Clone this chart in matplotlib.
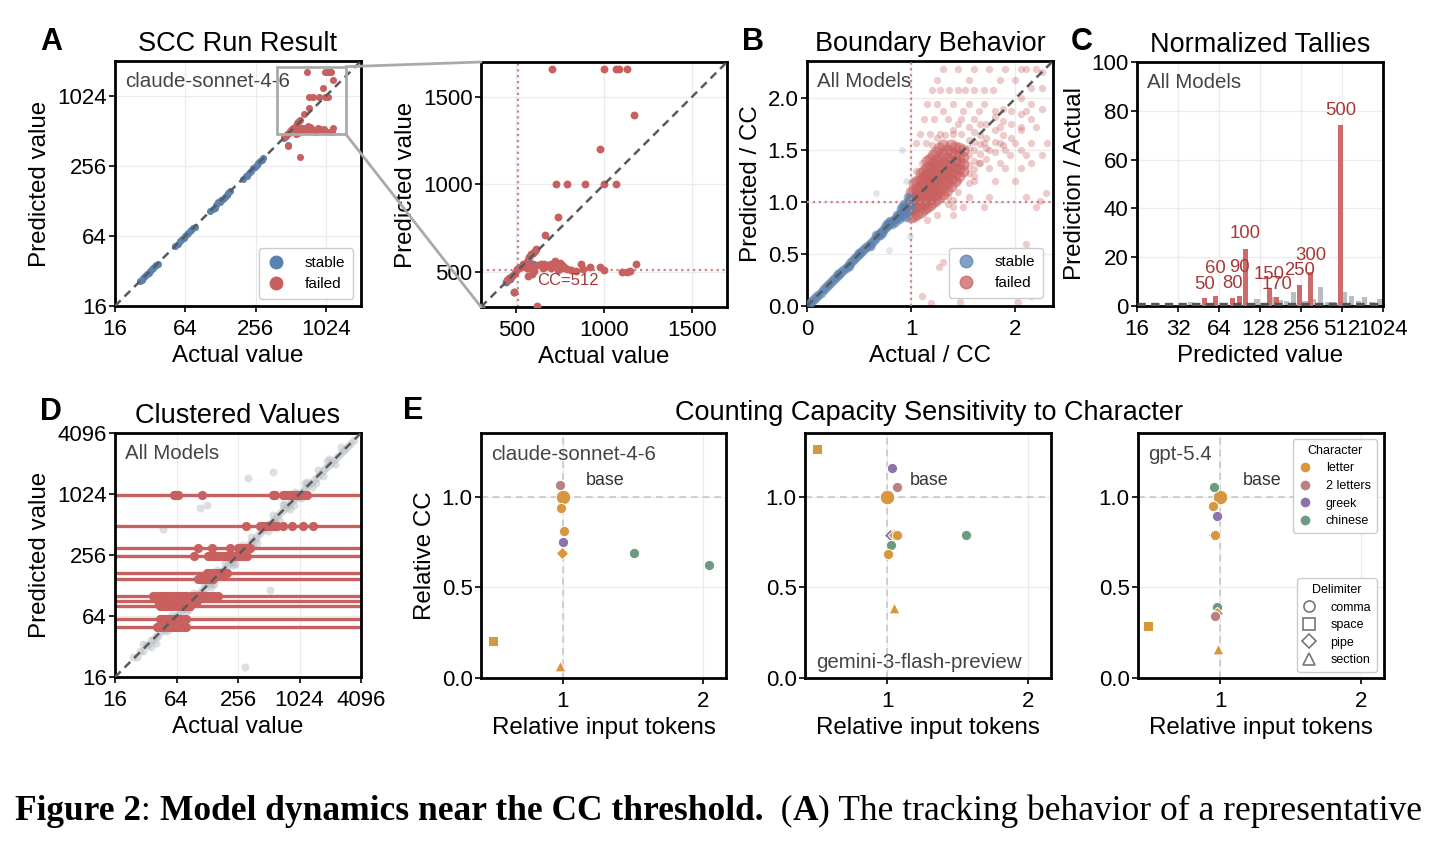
import matplotlib
matplotlib.use('Agg')
import matplotlib.pyplot as plt
from matplotlib.lines import Line2D
from matplotlib.patches import Rectangle, ConnectionPatch
import numpy as np

plt.rcParams['font.family'] = ['Liberation Sans', 'DejaVu Sans']

# ---------------- data ----------------
# Panel A (claude-sonnet-4-6): actual vs predicted
A_stable_x = [26, 27, 28, 29, 30, 31, 32, 33, 34, 35, 36, 37, 52, 55, 58, 60, 62, 64, 66, 68, 70, 72, 75, 77,
              104, 110, 115, 118, 122, 126, 130, 135, 140, 145, 150, 155, 200, 210, 215, 225, 235, 245, 255,
              262, 270, 280, 290, 298, 445, 465, 485, 545, 575, 595]
A_stable_y = [26, 27, 28, 29, 30, 31, 32, 33, 34, 35, 36, 37, 52, 55, 58, 60, 62, 64, 66, 68, 70, 72, 75, 77,
              104, 110, 112, 118, 125, 126, 130, 133, 138, 145, 150, 155, 198, 210, 212, 225, 232, 245, 252,
              262, 270, 280, 290, 298, 445, 461, 388, 535, 540, 548]
A_failed_x = [705, 1000, 1070, 1085, 1131, 1173, 975, 728, 791, 893, 1000, 1067, 740, 665, 618, 488,
              450, 462, 478, 495, 505, 515, 530, 540, 555, 565, 575, 585, 595, 605, 615, 560, 580, 600, 590, 570,
              620, 640, 660, 680, 700, 720, 735, 750, 760, 775, 790, 810, 840, 870, 880, 920, 980, 1000,
              1100, 1130, 1150, 1180, 650, 700, 740, 760]
A_failed_y = [1659, 1659, 1659, 1659, 1659, 1396, 1201, 1000, 1000, 1000, 1000, 1000, 815, 712, 307, 384,
              452, 468, 480, 492, 515, 520, 528, 545, 552, 570, 585, 600, 610, 620, 632, 520, 530, 505, 490, 480,
              540, 548, 545, 540, 548, 560, 545, 552, 520, 530, 515, 510, 505, 545, 515, 530, 530, 510,
              500, 500, 505, 545, 520, 525, 510, 540]
CC = 512
zoom_box_x = [390, 1520]
zoom_box_y = [480, 1830]

# Panel B (all models): actual/CC vs predicted/CC
B_stable_x = [0.01, 0.03, 0.05, 0.07, 0.09, 0.11, 0.13, 0.15, 0.17, 0.19, 0.21, 0.23, 0.25, 0.27, 0.29, 0.31,
              0.33, 0.35, 0.37, 0.39, 0.41, 0.43, 0.45, 0.47, 0.49, 0.51, 0.53, 0.55, 0.57, 0.59, 0.61, 0.63,
              0.65, 0.67, 0.69, 0.71, 0.73, 0.75, 0.77, 0.79, 0.81, 0.83, 0.85, 0.87, 0.89, 0.91, 0.93, 0.95,
              0.97, 0.99, 0.30, 0.40, 0.50, 0.60, 0.66, 0.72, 0.78, 0.82, 0.86, 0.88, 0.90, 0.92, 0.94, 0.96,
              0.98, 0.93, 0.95, 0.97, 0.99, 0.84, 0.76, 0.91, 0.70, 0.80, 0.89]
B_stable_y = [0.01, 0.03, 0.05, 0.07, 0.09, 0.11, 0.13, 0.15, 0.17, 0.19, 0.21, 0.23, 0.25, 0.27, 0.29, 0.31,
              0.33, 0.35, 0.37, 0.39, 0.41, 0.43, 0.45, 0.47, 0.49, 0.51, 0.53, 0.55, 0.57, 0.59, 0.61, 0.63,
              0.65, 0.67, 0.69, 0.71, 0.73, 0.75, 0.77, 0.79, 0.81, 0.83, 0.85, 0.87, 0.89, 0.91, 0.93, 0.95,
              0.97, 0.99, 0.31, 0.39, 0.51, 0.58, 0.68, 0.70, 0.80, 0.79, 0.88, 0.84, 0.93, 0.88, 0.97, 0.91,
              1.02, 0.98, 0.86, 1.05, 0.94, 0.81, 0.78, 0.95, 0.68, 0.82, 0.86]
B_stable_faint_x = [0.66, 0.91, 0.99, 0.79, 0.45, 0.62, 0.95]
B_stable_faint_y = [1.09, 1.50, 0.67, 0.54, 0.47, 0.57, 1.20]
# dense failed core, read column by column
B_core_x = [1.00, 1.03, 1.06, 1.09, 1.12, 1.15, 1.18, 1.21, 1.24, 1.27, 1.30, 1.34, 1.38, 1.42, 1.46, 1.50]
B_core_y = [[0.86, 0.92, 0.98, 1.04, 1.10], [0.87, 0.94, 1.00, 1.06, 1.12, 1.18],
            [0.89, 0.96, 1.02, 1.08, 1.14, 1.20], [0.91, 0.98, 1.04, 1.10, 1.16, 1.22, 1.28],
            [0.93, 1.00, 1.06, 1.12, 1.18, 1.24, 1.30], [0.95, 1.02, 1.08, 1.14, 1.20, 1.26, 1.33, 1.40],
            [0.97, 1.04, 1.10, 1.16, 1.22, 1.28, 1.35, 1.42], [1.00, 1.06, 1.12, 1.18, 1.24, 1.30, 1.37, 1.45],
            [1.02, 1.08, 1.14, 1.20, 1.26, 1.33, 1.40, 1.48], [1.05, 1.11, 1.17, 1.23, 1.29, 1.36, 1.43, 1.52],
            [1.08, 1.14, 1.20, 1.26, 1.32, 1.39, 1.46, 1.55], [1.12, 1.18, 1.24, 1.30, 1.36, 1.43, 1.50],
            [1.16, 1.22, 1.28, 1.34, 1.40, 1.47, 1.55], [1.20, 1.27, 1.33, 1.40, 1.46, 1.53],
            [1.25, 1.32, 1.38, 1.45, 1.52], [1.30, 1.37, 1.44, 1.50]]
# sparser failed points, column by column
B_sparse_x = [1.55, 1.60, 1.66, 1.72, 1.80, 1.88, 1.96, 2.05, 2.15, 2.25]
B_sparse_y = [[1.28, 1.36, 1.45, 1.52, 1.60], [1.32, 1.40, 1.50, 1.58, 1.68], [1.38, 1.46, 1.56, 1.65, 1.75],
              [1.42, 1.52, 1.62, 1.75], [1.48, 1.58, 1.70, 1.82], [1.55, 1.65, 1.78, 1.90], [1.62, 1.75, 1.88],
              [1.70, 1.85, 2.00], [1.80, 1.95, 2.10], [1.90, 2.10, 2.25]]
# ... and row by row (horizontal streaks)
B_row_y = [2.28, 2.18, 2.08, 1.95, 1.88, 1.80, 1.72, 1.66, 1.57, 1.50, 1.45, 1.38, 1.33, 1.20, 1.05, 0.95, 0.88]
B_row_x = [[1.30, 1.45, 1.60, 1.75, 1.90, 2.05, 2.10, 2.20], [1.25, 1.55, 1.85, 2.00],
           [1.20, 1.28, 1.36, 1.45, 1.52, 1.60, 1.70, 1.78], [1.15, 1.25, 1.40, 1.55, 1.70],
           [1.30, 1.50, 1.65, 1.80, 2.10], [1.12, 1.22, 1.35, 1.48, 1.60], [1.55, 1.85, 2.05, 2.20],
           [1.08, 1.18, 1.28, 1.40, 1.48], [1.05, 1.14, 1.70, 1.85, 2.00, 2.15, 2.30], [1.75, 1.90, 2.05],
           [1.95, 2.10, 2.25], [1.65, 1.85, 2.15], [1.75, 1.90, 2.05], [1.45, 1.60, 1.80, 2.00],
           [1.35, 1.55, 1.75, 2.10], [1.40, 1.50, 1.70, 2.20], [1.25, 1.40]]
B_extra_x = [2.29, 2.24, 1.15, 1.51, 1.27, 1.19, 1.47, 2.02, 1.30, 1.85, 1.60, 2.10, 1.10, 2.15, 1.05, 1.10,
             1.20, 1.25, 1.32, 1.40, 1.45, 1.35, 1.45, 1.55, 1.60, 1.40]
B_extra_y = [1.09, 1.01, 0.83, 0.38, 0.38, 0.03, 0.04, 0.04, 0.42, 0.35, 0.25, 0.60, 0.10, 0.10, 1.30, 1.38,
             1.55, 1.62, 1.65, 1.70, 1.75, 0.98, 1.10, 1.18, 1.25, 1.02]

# Panel C: normalized tallies (prediction count / actual count)
C_round_values = [50, 60, 80, 90, 100, 150, 170, 250, 300, 500]
C_round_ratio = [3.4, 4.1, 3.4, 4.2, 23.3, 7.5, 3.5, 8.6, 14.0, 74.0]
C_other_values = [39.6, 122, 157, 181, 200, 225, 274, 316, 357, 400, 440, 537, 600, 680, 750, 850, 975]
C_other_ratio = [1.5, 3.0, 3.8, 2.5, 2.2, 5.9, 2.2, 2.8, 7.8, 1.8, 1.6, 5.9, 4.3, 2.1, 3.8, 1.6, 2.9]
C_label_y = [8.9, 15.4, 9.3, 15.8, 29.7, 12.9, 8.9, 14.5, 20.9, 80.2]   # label positions

# Panel D: clustered predicted values
D_cluster_values = [1000, 500, 300, 250, 170, 150, 100, 90, 80, 60, 50]
D_cluster_actuals = [
    [60, 62, 64, 66, 113, 560, 575, 590, 710, 740, 770, 800, 830, 860, 890, 920, 950, 980, 1010, 1050, 1100,
     1150, 1200],
    [307, 421, 440, 460, 480, 500, 520, 540, 560, 590, 614, 710, 860, 1114, 1400],
    [105, 141, 214, 258, 270, 285, 300, 318, 335],
    [94, 131, 140, 150, 160, 170, 184, 195, 210, 225, 240, 255, 270, 290, 311],
    [126, 135, 145, 155, 165, 175, 185, 198],
    [105, 112, 120, 128, 136, 147],
    [38, 41, 44, 47, 50, 53, 56, 60, 64, 68, 72, 77, 82, 88, 94, 100, 107, 114, 122, 130, 140, 150, 164],
    [42.5, 45, 48, 51, 54, 58, 62, 66, 70, 75, 80, 86, 92, 101],
    [44, 47, 50, 53, 57, 61, 65, 70, 75, 81, 87],
    [44, 47, 50, 53, 57, 61, 65, 70, 75, 80],
    [41, 44, 47, 50, 53, 57, 61, 65, 70, 75, 80]]
D_other_x = [24, 26, 28, 30, 32, 34, 36, 38, 40, 42, 45, 48, 51, 54, 57, 60, 64, 68, 72, 76, 80, 85, 90, 96,
             102, 108, 115, 122, 130, 138, 147, 156, 166, 176, 187, 199, 212, 225, 240, 255, 272, 290, 308, 328,
             350, 372, 396, 422, 450, 480, 512, 545, 580, 620, 660, 705, 750, 800, 850, 905, 965, 1030, 1100,
             1170, 1250, 1330, 1420, 1510, 1610, 1720, 1830, 1950, 2080, 2220, 2370, 2530, 2700, 2880, 3070,
             3280, 3500,
             30, 36, 44, 52, 58, 66, 75, 85, 95, 110, 125, 140, 160, 180, 205, 230, 260, 300, 340, 390, 440,
             500, 560, 640, 720, 820, 930, 1050, 1200, 1350, 1550, 1750, 2000, 2300, 2600,
             40, 48, 56, 70, 82, 100, 118, 150, 190, 240, 280, 360, 420, 600, 700, 900, 1150, 1500, 1900,
             47.5, 324, 568, 108, 126, 300, 527]
D_other_y = [25, 25, 29, 29, 33, 33, 37, 37, 41, 41, 46, 47, 52, 53, 58, 59, 65, 67, 73, 75, 81, 84, 91, 95,
             103, 107, 116, 121, 131, 137, 148, 155, 167, 175, 188, 198, 213, 224, 241, 254, 273, 289, 309, 327,
             351, 371, 397, 421, 451, 479, 513, 544, 581, 619, 661, 704, 751, 799, 851, 904, 966, 1029, 1101,
             1169, 1251, 1329, 1421, 1509, 1611, 1719, 1831, 1949, 2081, 2219, 2371, 2529, 2701, 2879, 3071,
             3279, 3501,
             34, 32, 50, 46, 66, 58, 86, 75, 108, 97, 142, 123, 181, 160, 232, 205, 295, 264, 385, 340, 500,
             440, 640, 565, 820, 720, 1060, 930, 1360, 1190, 1760, 1540, 2250, 2030, 2950,
             35, 55, 49, 80, 72, 88, 135, 132, 215, 210, 320, 315, 480, 530, 800, 790, 1300, 1320, 2150,
             459, 1460, 1700, 739, 797, 20, 116]

# Panel E: relative input tokens vs relative CC
E_models = ['claude-sonnet-4-6', 'gemini-3-flash-preview', 'gpt-5.4']
claude_x = [1.0, 0.979, 0.986, 1.012, 1.0, 0.995, 1.508, 2.038, 0.508, 0.979]
claude_y = [1.0, 1.064, 0.937, 0.812, 0.75, 0.687, 0.687, 0.624, 0.203, 0.064]
claude_char = ['letter', '2 letters', 'letter', 'letter', 'greek', 'letter', 'chinese', 'chinese', 'letter', 'letter']
claude_delim = ['comma', 'comma', 'comma', 'comma', 'comma', 'pipe', 'comma', 'comma', 'space', 'section']
gemini_x = [1.0, 0.507, 1.036, 1.071, 1.024, 1.048, 1.071, 1.031, 1.005, 1.56, 1.052]
gemini_y = [1.0, 1.262, 1.157, 1.053, 0.788, 0.788, 0.788, 0.735, 0.683, 0.788, 0.387]
gemini_char = ['letter', 'letter', 'greek', '2 letters', 'greek', 'letter', 'letter', 'chinese', 'letter', 'chinese', 'letter']
gemini_delim = ['comma', 'space', 'comma', 'comma', 'pipe', 'pipe', 'comma', 'comma', 'comma', 'comma', 'section']
gpt_x = [1.0, 0.957, 0.948, 0.981, 0.955, 0.967, 0.981, 0.976, 0.964, 0.49, 0.986]
gpt_y = [1.0, 1.055, 0.948, 0.895, 0.79, 0.79, 0.392, 0.359, 0.341, 0.287, 0.162]
gpt_char = ['letter', 'chinese', 'letter', 'greek', '2 letters', 'letter', 'chinese', 'letter', '2 letters', 'letter', 'letter']
gpt_delim = ['comma', 'comma', 'comma', 'comma', 'pipe', 'comma', 'comma', 'pipe', 'comma', 'space', 'section']
E_characters = ['letter', '2 letters', 'greek', 'chinese']
E_delimiters = ['comma', 'space', 'pipe', 'section']

# ---------------- style ----------------
BLUE = '#5a82b0'
RED = '#c8605f'
DRED = '#a83838'
DASH = '#5a5a5a'
GRIDC = '#ebebeb'
TXT = '#444444'
TITLE_FS = 19.5
LABEL_FS = 17.4
TICK_FS = 16
INNER_FS = 14.8
char_colors = {'letter': '#d99640', '2 letters': '#bb8084', 'greek': '#8c73aa', 'chinese': '#6c9b80'}
delim_markers = {'comma': 'o', 'space': 's', 'pipe': 'D', 'section': '^'}
DASHSTYLE = (0, (3.2, 2.2))

W, H = 1435, 846
fig = plt.figure(figsize=(W / 100, H / 100), dpi=100)


def ax_px(x0, y0, x1, y1):
    return fig.add_axes([x0 / W, 1 - y1 / H, (x1 - x0) / W, (y1 - y0) / H])


def style(ax):
    for s in ax.spines.values():
        s.set_linewidth(2)
        s.set_color('black')
    ax.grid(True, color=GRIDC, lw=0.9)
    ax.set_axisbelow(True)
    ax.tick_params(labelsize=TICK_FS, length=4, width=1.2)
    ax.tick_params(axis='x', pad=5.5)
    ax.tick_params(axis='y', pad=2)


def log2_axes(ax, lo, hi, ticks):
    ax.set_xscale('log', base=2)
    ax.set_yscale('log', base=2)
    ax.set_xlim(lo, hi)
    ax.set_ylim(lo, hi)
    ax.set_xticks(ticks)
    ax.set_xticklabels([str(t) for t in ticks])
    ax.set_yticks(ticks)
    ax.set_yticklabels([str(t) for t in ticks])
    ax.minorticks_off()


def legend_sf(ax, alpha, anchor):
    hs = [Line2D([], [], marker='o', ls='', color=BLUE, alpha=alpha, markersize=9, label='stable'),
          Line2D([], [], marker='o', ls='', color=RED, alpha=alpha, markersize=9, label='failed')]
    lg = ax.legend(handles=hs, loc='lower right', bbox_to_anchor=anchor, borderaxespad=0, fontsize=11,
                   handletextpad=1.3, borderpad=0.5, labelspacing=0.45, handlelength=1.2, framealpha=1)
    lg.get_frame().set_edgecolor('#cccccc')
    lg.get_frame().set_linewidth(1)


XLPAD = 3.5

# ---------------- Panel A ----------------
axA = ax_px(115, 61, 361, 306)
style(axA)
log2_axes(axA, 16, 2048, [16, 64, 256, 1024])
axA.plot([16, 2048], [16, 2048], ls=DASHSTYLE, color=DASH, lw=1.8, zorder=4)
axA.scatter(A_stable_x, A_stable_y, s=26, color=BLUE, lw=0, zorder=3)
axA.scatter(A_failed_x, A_failed_y, s=26, color=RED, lw=0, zorder=3)
axA.add_patch(Rectangle((zoom_box_x[0], zoom_box_y[0]), zoom_box_x[1] - zoom_box_x[0],
                        zoom_box_y[1] - zoom_box_y[0], fill=False, ec='#aaaaaa', lw=2, zorder=5))
axA.text(0.04, 0.955, 'claude-sonnet-4-6', transform=axA.transAxes, ha='left', va='top',
         fontsize=INNER_FS, color=TXT)
axA.set_xlabel('Actual value', fontsize=LABEL_FS, labelpad=XLPAD)
axA.set_ylabel('Predicted value', fontsize=LABEL_FS, labelpad=4)
axA.set_title('SCC Run Result', fontsize=TITLE_FS, pad=7.5)
legend_sf(axA, 1.0, (0.967, 0.03))

# ---------------- Inset (zoom of A) ----------------
axI = ax_px(481, 62, 727, 307)
style(axI)
axI.set_xlim(300, 1700)
axI.set_ylim(300, 1700)
axI.set_xticks([500, 1000, 1500])
axI.set_yticks([500, 1000, 1500])
axI.plot([300, 1700], [300, 1700], ls=DASHSTYLE, color=DASH, lw=1.8, zorder=4)
axI.axvline(CC, color='#c98585', ls=':', lw=1.6, zorder=2)
axI.axhline(CC, color='#c98585', ls=':', lw=1.6, zorder=2)
axI.scatter(A_stable_x, A_stable_y, s=32, color=BLUE, lw=0, zorder=3)
axI.scatter(A_failed_x, A_failed_y, s=32, color=RED, lw=0, zorder=3)
axI.text(618, 452, 'CC=512', fontsize=12, color=DRED, ha='left', va='center', zorder=5)
axI.set_xlabel('Actual value', fontsize=LABEL_FS, labelpad=XLPAD)
axI.set_ylabel('Predicted value', fontsize=LABEL_FS, labelpad=4)

for yA, yB in [(zoom_box_y[1], 1), (zoom_box_y[0], 0)]:
    con = ConnectionPatch(xyA=(zoom_box_x[1], yA), coordsA=axA.transData, xyB=(0, yB),
                          coordsB=axI.transAxes, color='#aaaaaa', lw=2)
    fig.add_artist(con)

# ---------------- Panel B ----------------
axB = ax_px(807, 61, 1053, 306)
style(axB)
axB.set_xlim(0, 2.36)
axB.set_ylim(0, 2.36)
axB.set_xticks([0, 1, 2])
axB.set_yticks([0, 0.5, 1.0, 1.5, 2.0])
axB.set_yticklabels(['0.0', '0.5', '1.0', '1.5', '2.0'])


def flatten_cols(xs, yss):
    fx, fy = [], []
    for x, ys in zip(xs, yss):
        fx += [x] * len(ys)
        fy += ys
    return fx, fy


cx, cy = flatten_cols(B_core_x, B_core_y)
sx, sy = flatten_cols(B_sparse_x, B_sparse_y)
ry_, rx_ = flatten_cols(B_row_y, B_row_x)
axB.scatter(sx + rx_ + B_extra_x, sy + ry_ + B_extra_y, s=28, color=RED, alpha=0.32, lw=0, zorder=2)
axB.scatter(cx, cy, s=75, color=RED, alpha=0.55, lw=0, zorder=2)
axB.scatter(B_stable_faint_x, B_stable_faint_y, s=24, color=BLUE, alpha=0.2, lw=0, zorder=3)
axB.scatter(B_stable_x, B_stable_y, s=50, color=BLUE, alpha=0.6, lw=0, zorder=3)
axB.plot([0, 2.36], [0, 2.36], ls=DASHSTYLE, color=DASH, lw=1.8, zorder=4)
axB.axvline(1, color='#c98585', ls=':', lw=1.6, zorder=3)
axB.axhline(1, color='#c98585', ls=':', lw=1.6, zorder=3)
axB.text(0.04, 0.955, 'All Models', transform=axB.transAxes, ha='left', va='top', fontsize=INNER_FS, color=TXT)
axB.set_xlabel('Actual / CC', fontsize=LABEL_FS, labelpad=XLPAD)
axB.set_ylabel('Predicted / CC', fontsize=LABEL_FS, labelpad=4)
axB.set_title('Boundary Behavior', fontsize=TITLE_FS, pad=7.5)
legend_sf(axB, 0.75, (0.96, 0.033))

# ---------------- Panel C ----------------
axC = ax_px(1137, 62, 1383, 306)
style(axC)
axC.set_xscale('log', base=2)
axC.set_xlim(16, 1024)
axC.set_ylim(0, 100)
ct = [16, 32, 64, 128, 256, 512, 1024]
axC.set_xticks(ct)
axC.set_xticklabels([str(t) for t in ct])
axC.minorticks_off()
axC.set_yticks([0, 20, 40, 60, 80, 100])


def logbar(ax, centers, heights, w_oct, **kw):
    c = np.asarray(centers, float)
    left = c * 2 ** (-w_oct / 2)
    right = c * 2 ** (w_oct / 2)
    ax.bar(left, heights, width=right - left, align='edge', **kw)


logbar(axC, C_other_values, C_other_ratio, 0.13, color='#b8bdc2', lw=0, zorder=2)
logbar(axC, C_round_values, C_round_ratio, 0.13, color='#cd6a6a', lw=0, zorder=3)
axC.plot([16, 1024], [1, 1], color='#555555', lw=2.4, ls=(0, (2.5, 1.6)), zorder=4)
for v, ly in zip(C_round_values, C_label_y):
    axC.text(v, ly, str(v), ha='center', va='center', fontsize=13.3, color=DRED, zorder=5)
axC.text(0.04, 0.955, 'All Models', transform=axC.transAxes, ha='left', va='top', fontsize=INNER_FS, color=TXT)
axC.set_xlabel('Predicted value', fontsize=LABEL_FS, labelpad=XLPAD)
axC.set_ylabel('Prediction / Actual', fontsize=LABEL_FS, labelpad=4)
axC.set_title('Normalized Tallies', fontsize=TITLE_FS, pad=7.5)

# ---------------- Panel D ----------------
axD = ax_px(115, 433, 361, 677)
style(axD)
log2_axes(axD, 16, 4096, [16, 64, 256, 1024, 4096])
axD.scatter(D_other_x, D_other_y, s=34, color='#b4bcc2', alpha=0.45, lw=0, zorder=1)
for v, acts in zip(D_cluster_values, D_cluster_actuals):
    axD.axhline(v, color=RED, lw=2.4, zorder=2)
    axD.scatter(acts, [v] * len(acts), s=44, color=RED, lw=0, zorder=3)
axD.plot([16, 4096], [16, 4096], ls=DASHSTYLE, color=DASH, lw=1.8, zorder=4)
axD.text(0.04, 0.955, 'All Models', transform=axD.transAxes, ha='left', va='top', fontsize=INNER_FS, color=TXT)
axD.set_xlabel('Actual value', fontsize=LABEL_FS, labelpad=XLPAD)
axD.set_ylabel('Predicted value', fontsize=LABEL_FS, labelpad=4)
axD.set_title('Clustered Values', fontsize=TITLE_FS, pad=7.5)

# ---------------- Panel E ----------------
E_data = [(claude_x, claude_y, claude_char, claude_delim),
          (gemini_x, gemini_y, gemini_char, gemini_delim),
          (gpt_x, gpt_y, gpt_char, gpt_delim)]
E_boxes = [(481, 433, 726, 678), (805, 433, 1051, 678), (1138, 433, 1384, 678)]
E_name_pos = [(0.04, 0.95, 'top'), (0.045, 0.04, 'baseline'), (0.04, 0.95, 'top')]
for i, (name, (xs, ys, chs, dls), box, npos) in enumerate(zip(E_models, E_data, E_boxes, E_name_pos)):
    ax = ax_px(*box)
    style(ax)
    ax.set_xlim(0.42, 2.16)
    ax.set_ylim(0, 1.35)
    ax.set_xticks([1, 2])
    ax.set_yticks([0, 0.5, 1.0])
    ax.set_yticklabels(['0.0', '0.5', '1.0'])
    ax.axvline(1, color='#c8c8c8', ls=(0, (4, 3)), lw=1.2, zorder=1)
    ax.axhline(1, color='#c8c8c8', ls=(0, (4, 3)), lw=1.2, zorder=1)
    for j, (x, y, c, d) in enumerate(zip(xs, ys, chs, dls)):
        m = delim_markers[d]
        if j == 0:
            s = 110
        elif m == 'D':
            s = 40
        elif m == 'o':
            s = 55
        else:
            s = 60
        ax.scatter([x], [y], s=s, marker=m, color=char_colors[c], edgecolor='white', lw=0.7, zorder=3)
    ax.text(1.3, 1.087, 'base', ha='center', va='center', fontsize=12.9, color='#333333', zorder=4)
    ax.text(npos[0], npos[1], name, transform=ax.transAxes, ha='left', va=npos[2], fontsize=INNER_FS,
            color=TXT)
    ax.set_xlabel('Relative input tokens', fontsize=LABEL_FS, labelpad=XLPAD)
    if i == 0:
        ax.set_ylabel('Relative CC', fontsize=LABEL_FS, labelpad=4)
    if i == 2:
        h1 = [Line2D([], [], marker='o', ls='', color=char_colors[c], markeredgecolor='white', markersize=8,
                     label=c) for c in E_characters]
        lg1 = ax.legend(handles=h1, title='Character', loc='upper right', bbox_to_anchor=(0.97, 0.975),
                        borderaxespad=0, fontsize=9, title_fontsize=9, handletextpad=1.2, labelspacing=0.45,
                        borderpad=0.45, handlelength=1.0, framealpha=1)
        lg1.get_frame().set_edgecolor('#cccccc')
        ax.add_artist(lg1)
        h2 = [Line2D([], [], marker=delim_markers[d], ls='', markerfacecolor='none', markeredgecolor='#777777',
                     markeredgewidth=1.2, markersize=8 if d != 'pipe' else 7.5, label=d) for d in E_delimiters]
        lg2 = ax.legend(handles=h2, title='Delimiter', loc='lower right', bbox_to_anchor=(0.97, 0.024),
                        borderaxespad=0, fontsize=9, title_fontsize=9, handletextpad=1.2, labelspacing=0.45,
                        borderpad=0.45, handlelength=1.0, framealpha=1)
        lg2.get_frame().set_edgecolor('#cccccc')

fig.text(929 / W, 1 - 413 / H, 'Counting Capacity Sensitivity to Character', fontsize=TITLE_FS,
         ha='center', va='center')

# panel letters
for lab, (px, py) in zip('ABCDE', [(51, 42), (753, 42), (1082, 42), (51, 412), (413, 411)]):
    fig.text(px / W, 1 - py / H, lab, fontsize=22, fontweight='bold', ha='center', va='center')

# ---------------- caption ----------------
cap_parts = [('Figure 2', 'bold'), (': ', 'normal'), ('Model dynamics near the CC threshold.', 'bold'),
             ('  (', 'normal'), ('A', 'bold'), (')', 'normal'),
             (' The tracking behavior of a representative', 'normal')]
renderer = fig.canvas.get_renderer()


def place_caption(size):
    x = 15.0
    ts = []
    for s, wt in cap_parts:
        t = fig.text(x / W, 1 - 811 / H, s, fontsize=size, fontweight=wt, family='Liberation Serif',
                     ha='left', va='center')
        bb = t.get_window_extent(renderer)
        x = bb.x1
        ts.append(t)
    return x, ts


x_end, ts = place_caption(22)
for t in ts:
    t.remove()
place_caption(22 * (1420 - 15) / (x_end - 15))

fig.savefig('out.png', dpi=100)
